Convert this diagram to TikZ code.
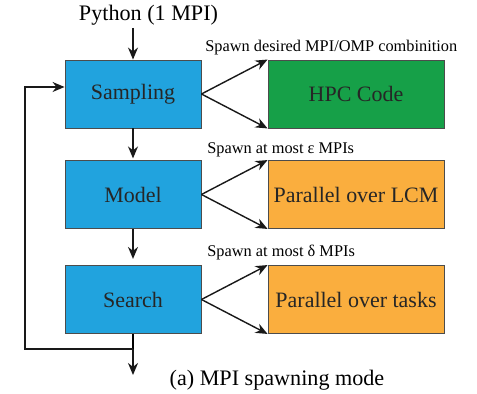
\documentclass[tikz,border=0pt]{standalone}
\usepackage{fontspec}
\setmainfont{Liberation Serif}
\usepackage{tikz}
\usetikzlibrary{arrows.meta, positioning}
\definecolor{stepblue}{RGB}{33,163,222}
\definecolor{hpcgreen}{RGB}{22,160,72}
\definecolor{parorange}{RGB}{250,174,62}
\tikzstyle{arrow} = [-{Stealth[length=2.4mm, width=2mm]}, line width=0.8pt, draw=black!90]
\tikzstyle{stepbox} = [draw=black!70, line width=0.5pt, minimum width=2.72cm, minimum height=1.36cm, inner sep=0pt, font=\rmfamily\fontsize{12.5}{14}\selectfont, fill=stepblue, text=black!85]
\tikzstyle{workbox} = [stepbox, minimum width=3.52cm]
\tikzstyle{spawnlabel} = [font=\rmfamily\fontsize{9.3}{11}\selectfont, anchor=west, inner sep=0pt]

\begin{document}
\begin{tikzpicture}
    \useasboundingbox (0,0) rectangle (9.54,7.86);
    \node[stepbox] (sampling) at (2.66,5.98) {Sampling};
    \node[stepbox] (model) at (2.66,3.97) {Model};
    \node[stepbox] (search) at (2.66,1.87) {Search};
    \node[workbox, fill=hpcgreen] (hpc) at (7.12,5.98) {HPC Code};
    \node[workbox, fill=parorange] (lcm) at (7.12,3.97) {Parallel over LCM};
    \node[workbox, fill=parorange] (tasks) at (7.12,1.87) {Parallel over tasks};
    \node[font=\rmfamily\fontsize{12.6}{14}\selectfont, inner sep=0pt] (python) at (2.97,7.56) {Python (1 MPI)};
    \node[spawnlabel] (spawnhpc) at (4.1,6.9) {Spawn desired MPI/OMP combinition};
    \node[spawnlabel] (spawnlcm) at (4.14,4.86) {Spawn at most ε MPIs};
    \node[spawnlabel] (spawntasks) at (4.14,2.8) {Spawn at most δ MPIs};
    \node[font=\rmfamily\fontsize{12.6}{14}\selectfont, inner sep=0pt] (caption) at (5.54,0.26) {(a) MPI spawning mode};
    \coordinate (pytop) at (2.66,7.3);
    \coordinate (loopjoin) at (2.66,0.88);
    \coordinate (loopend) at (2.66,0.36);
    % vertical flow
    \draw[arrow] (pytop) -- (sampling.north);
    \draw[arrow] (sampling.south) -- ++(0,-0.6);
    \draw[arrow] (model.south) -- ++(0,-0.6);
    \draw[line width=0.8pt] (search.south) -- (loopjoin);
    \draw[arrow] (loopjoin) -- (loopend);
    % feedback loop
    \draw[arrow] (loopjoin) -| (0.5,6.12) -- (sampling.west |- 0,6.12);
    % spawning
    \foreach \src/\dst in {sampling/hpc, model/lcm, search/tasks} {
        \draw[arrow] (\src.east) -- (\dst.north west);
        \draw[arrow] (\src.east) -- (\dst.south west);
    }
\end{tikzpicture}
\end{document}
